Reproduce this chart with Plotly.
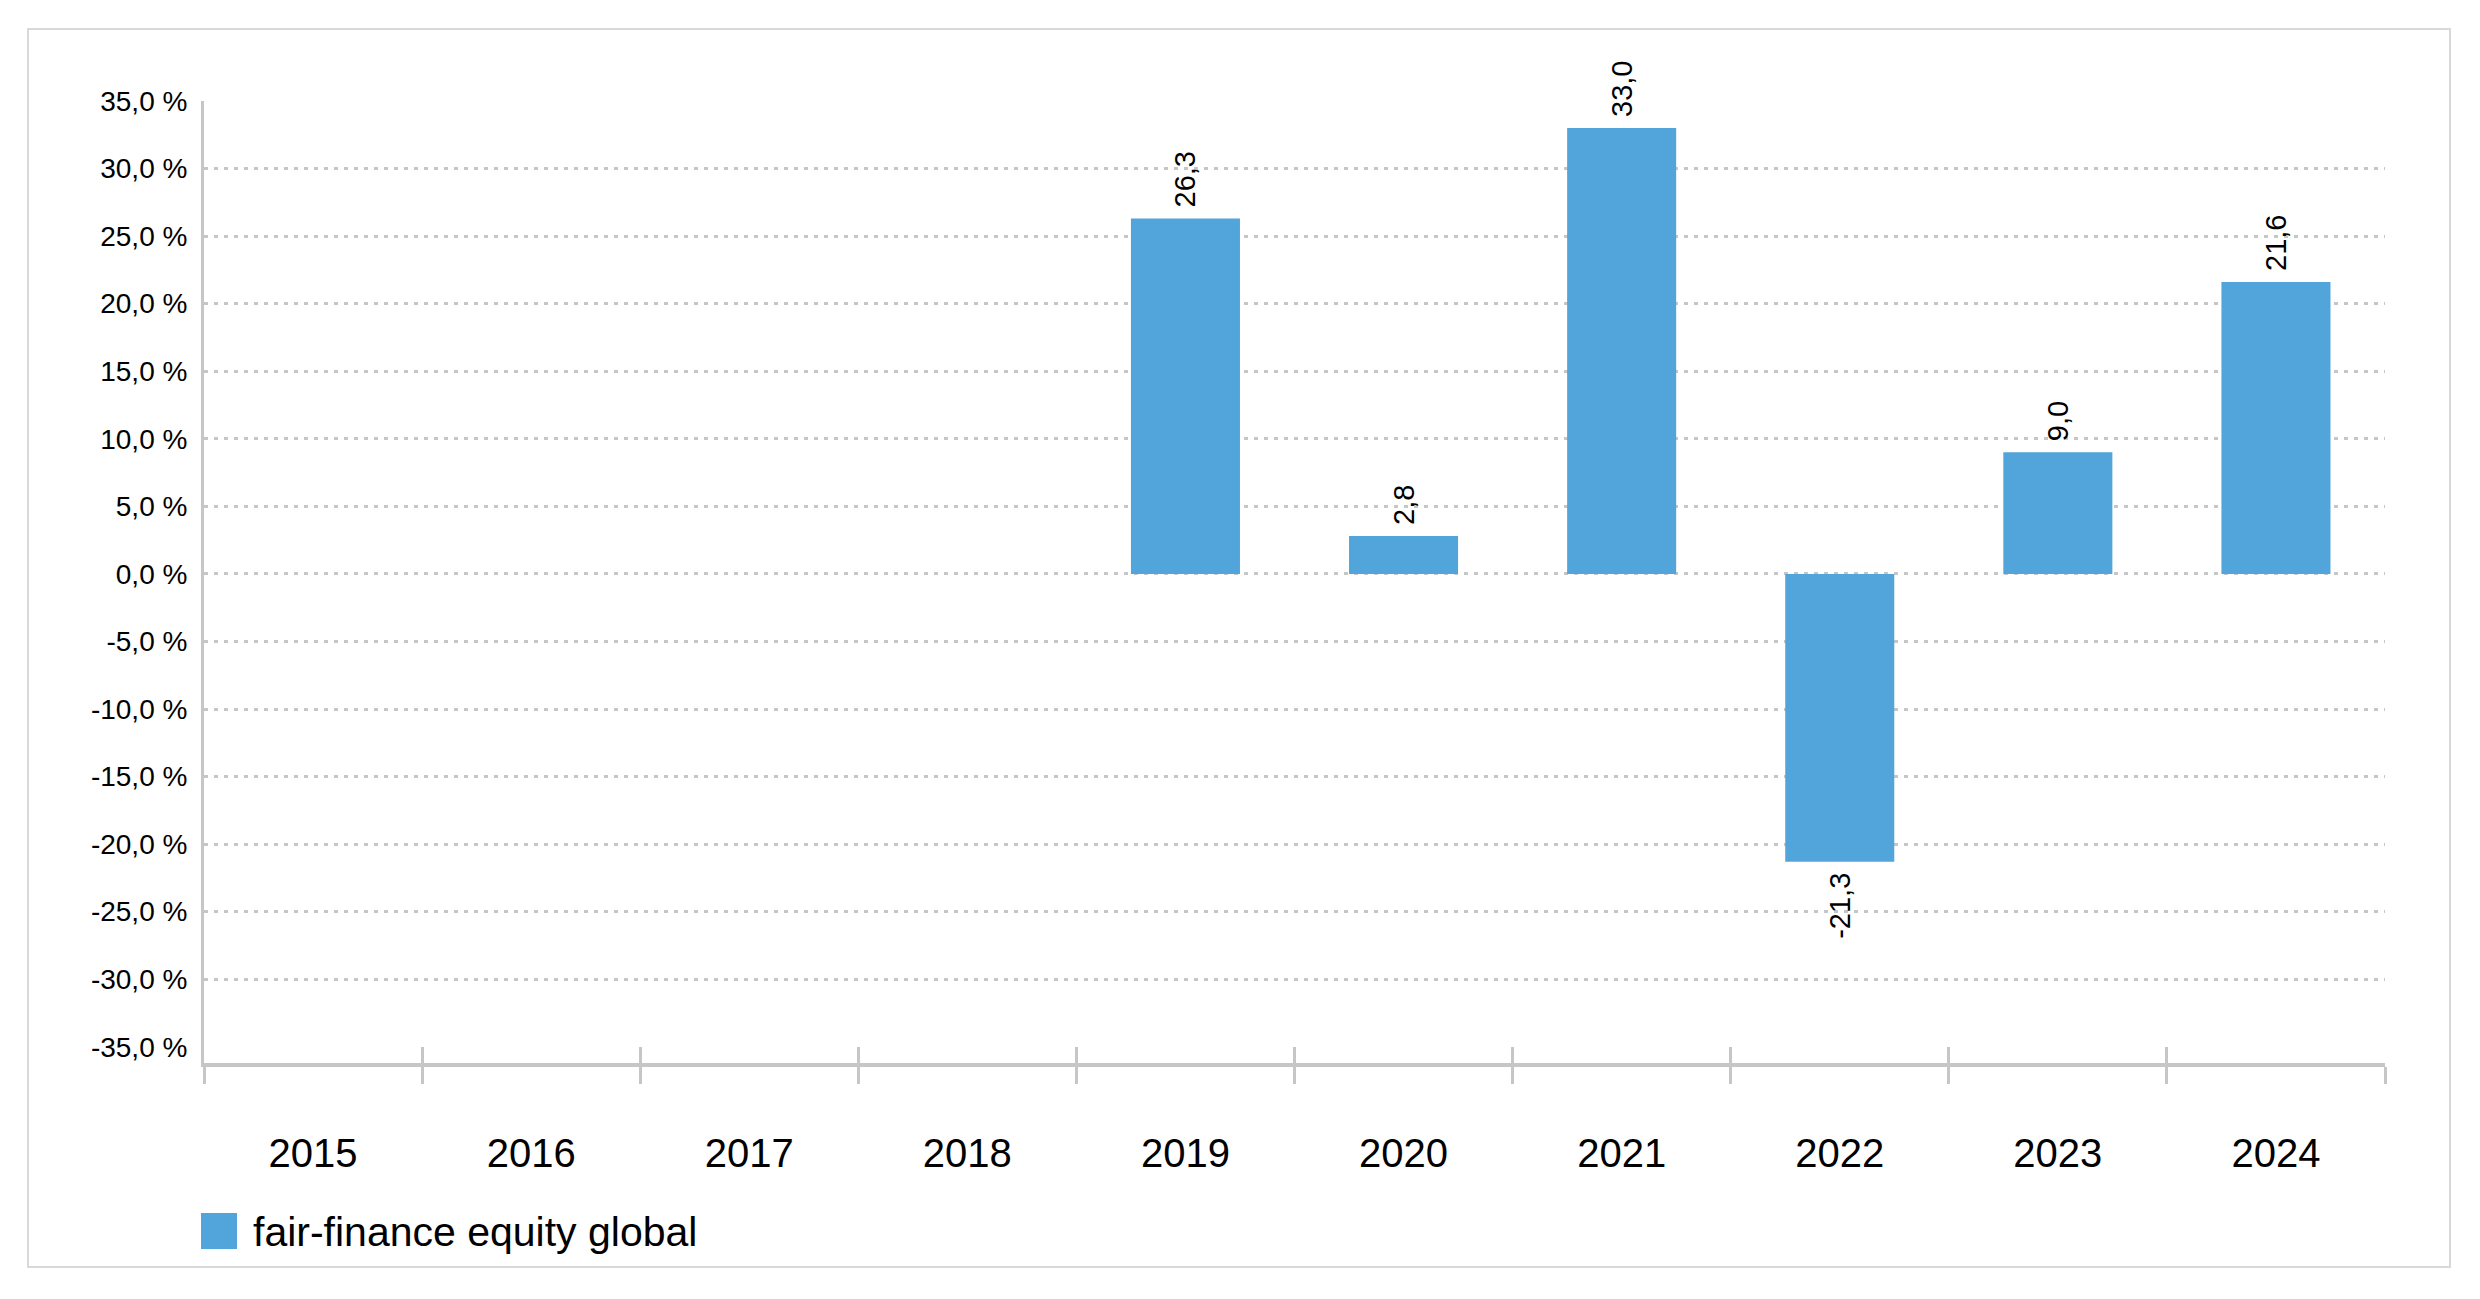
import plotly.graph_objects as go

# ---- data ----
years = ["2015", "2016", "2017", "2018", "2019", "2020", "2021", "2022", "2023", "2024"]
returns = [None, None, None, None, 26.3, 2.8, 33.0, -21.3, 9.0, 21.6]
series_name = "fair-finance equity global"
grid_vals = [35, 30, 25, 20, 15, 10, 5, 0, -5, -10, -15, -20, -25, -30]
y_tick_vals = [35, 30, 25, 20, 15, 10, 5, 0, -5, -10, -15, -20, -25, -30, -35]
y_tick_labels = ["35,0 %", "30,0 %", "25,0 %", "20,0 %", "15,0 %", "10,0 %", "5,0 %", "0,0 %",
                 "-5,0 %", "-10,0 %", "-15,0 %", "-20,0 %", "-25,0 %", "-30,0 %", "-35,0 %"]
NBSP = "\u00a0"
bar_labels = [None if v is None else
              (NBSP + f"{v:.1f}".replace(".", ",") if v >= 0 else f"{v:.1f}".replace(".", ",") + NBSP)
              for v in returns]

# page is offset by the default 8px body margin
OFF = 8
W, H = 2472, 1291
ML, MR, MT, MB = 196, 95, 93, 236
PW, PH = W - ML - MR, H - MT - MB

def px(x):  # page pixel -> paper fraction
    return (x - OFF - ML) / PW

def py(y):
    return (H - MB - (y - OFF)) / PH

FONT = "Liberation Sans, Arial, sans-serif"
BAR_COLOR = "#52a5da"
AXIS_COLOR = "#c6c6c6"
Y_RANGE = [-36.2, 35]

fig = go.Figure()
fig.add_trace(go.Bar(
    x=years, y=returns, name=series_name,
    marker=dict(color=BAR_COLOR, line=dict(width=0)),
    text=bar_labels, textposition="outside", textangle=-90,
    textfont=dict(family=FONT, size=29, color="#000000"),
    constraintext="none", cliponaxis=False, showlegend=False,
    hoverinfo="x+y", xaxis="x", yaxis="y",
))
# helper trace to carry the secondary axes (inside ticks + y labels)
fig.add_trace(go.Scatter(
    x=years, y=[None] * len(years), mode="markers", showlegend=False,
    hoverinfo="skip", xaxis="x2", yaxis="y2",
))

fig.update_layout(
    width=W, height=H, autosize=False,
    margin=dict(l=ML, r=MR, t=MT, b=MB),
    paper_bgcolor="white", plot_bgcolor="white",
    bargap=0.5, showlegend=False,
    xaxis=dict(
        type="category", categoryorder="array", categoryarray=years,
        range=[-0.5, len(years) - 0.5],
        tickson="boundaries", ticks="outside", ticklen=17, tickwidth=3, tickcolor=AXIS_COLOR,
        showline=True, linecolor=AXIS_COLOR, linewidth=4,
        showgrid=False, zeroline=False,
        tickfont=dict(family=FONT, size=40, color="#000000"),
        ticklabelstandoff=52,
        anchor="y",
    ),
    xaxis2=dict(
        type="category", categoryorder="array", categoryarray=years,
        range=[-0.5, len(years) - 0.5],
        overlaying="x", side="bottom", anchor="y",
        tickson="boundaries", ticks="inside", ticklen=16, tickwidth=3, tickcolor=AXIS_COLOR,
        showticklabels=False, showline=False, showgrid=False, zeroline=False,
    ),
    yaxis=dict(
        range=Y_RANGE, tickvals=grid_vals, showticklabels=False,
        showgrid=True, gridcolor=AXIS_COLOR, gridwidth=3, griddash="4px,6px",
        zeroline=False, showline=True, linecolor=AXIS_COLOR, linewidth=3,
        ticks="", anchor="x",
    ),
    yaxis2=dict(
        range=Y_RANGE, overlaying="y", side="left", anchor="x",
        tickvals=y_tick_vals, ticktext=y_tick_labels,
        tickfont=dict(family=FONT, size=28, color="#000000"),
        ticks="outside", ticklen=0, ticklabelstandoff=10,
        showgrid=False, zeroline=False, showline=False,
    ),
    shapes=[
        # outer frame
        dict(type="rect", xref="paper", yref="paper",
             x0=px(28), x1=px(2450), y0=py(1267), y1=py(29),
             line=dict(color="#d9d9d9", width=2), fillcolor="rgba(0,0,0,0)", layer="below"),
        # legend swatch
        dict(type="rect", xref="paper", yref="paper",
             x0=px(201), x1=px(237), y0=py(1249), y1=py(1213),
             line=dict(width=0), fillcolor=BAR_COLOR),
    ],
    annotations=[
        dict(text=series_name, xref="paper", yref="paper", x=px(251), y=py(1232),
             xanchor="left", yanchor="middle", showarrow=False,
             font=dict(family=FONT, size=41, color="#000000")),
    ],
)

fig.write_html("out.html")
